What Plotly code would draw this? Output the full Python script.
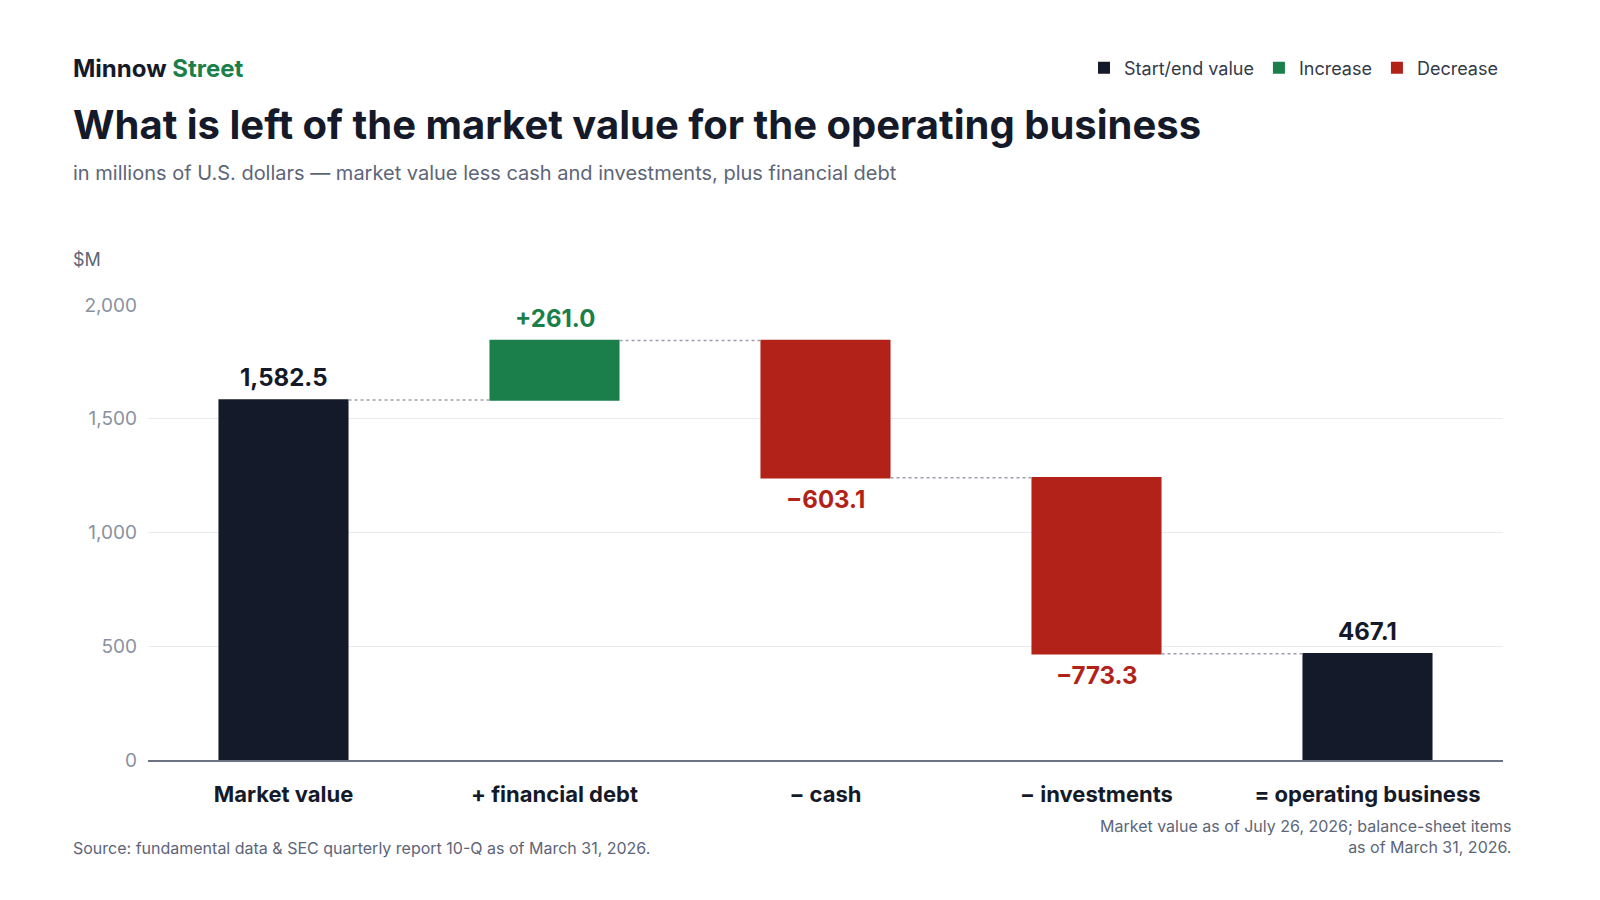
import plotly.graph_objects as go

categories = ["Market value", "+ financial debt", "\u2212 cash", "\u2212 investments", "= operating business"]
values = [1582.5, 261.0, -603.1, -773.3, 467.1]
measures = ["absolute", "relative", "relative", "relative", "total"]
labels = ["1,582.5", "+261.0", "\u2212603.1", "\u2212773.3", "467.1"]

DARK = "#141a29"
GREEN = "#1a7f4b"
RED = "#b32218"

fig = go.Figure()
fig.add_trace(go.Waterfall(
    x=categories, y=values, measure=measures,
    increasing=dict(marker=dict(color=GREEN)),
    decreasing=dict(marker=dict(color=RED)),
    totals=dict(marker=dict(color=DARK)),
    connector=dict(line=dict(color="#9aa0ab", width=1.5, dash="dot")),
    width=0.48, showlegend=False, hoverinfo="skip",
))

# label positions from running totals
run = 0
for i, (c, v, m, lab) in enumerate(zip(categories, values, measures, labels)):
    if m == "absolute":
        run = v; ypos = v; shift = 22; col = DARK
    elif m == "total":
        ypos = run; shift = 22; col = DARK
    else:
        run = run + v
        if v > 0:
            ypos = run; shift = 22; col = GREEN
        else:
            ypos = run; shift = -22; col = RED
    fig.add_annotation(x=c, y=ypos, text="<b>%s</b>" % lab, showarrow=False,
                       yshift=shift, font=dict(size=24, color=col))

for name, col in [("Start/end value", DARK), ("Increase", GREEN), ("Decrease", RED)]:
    fig.add_trace(go.Scatter(x=[None], y=[None], name=name, mode="markers",
                             marker=dict(color=col, symbol="square", size=18)))

fig.update_layout(
    width=1600, height=900, plot_bgcolor="white", paper_bgcolor="white",
    font=dict(family="Inter", color=DARK),
    margin=dict(l=140, r=105, t=297, b=148),
    legend=dict(orientation="h", x=1.0, xanchor="right", y=1 - 60 / 900, yanchor="middle",
                yref="container", font=dict(size=18, color="#333a48"),
                traceorder="normal", itemsizing="constant"),
    xaxis=dict(showgrid=False, showline=True, linecolor="#6b7385", linewidth=1.5,
               tickfont=dict(size=22, color=DARK, family="Inter"), ticks="",
               ticklabelstandoff=14, fixedrange=True),
    yaxis=dict(range=[0, 2000], tickvals=[0, 500, 1000, 1500, 2000],
               ticktext=["0", "500", "1,000", "1,500", "2,000"],
               gridcolor="#e8eaee", zeroline=False,
               tickfont=dict(size=19, color="#8a91a0"), ticklabelstandoff=10),
)
fig.update_xaxes(tickprefix="<b>", ticksuffix="</b>")

ann = [
    dict(x=63, y=60, text="<b>Minnow <span style='color:%s'>Street</span></b>" % GREEN, size=24, color=DARK, xa="left"),
    dict(x=63, y=116, text="<b>What is left of the market value for the operating business</b>", size=40, color=DARK, xa="left"),
    dict(x=63, y=165, text="in millions of U.S. dollars \u2014 market value less cash and investments, plus financial debt", size=20, color="#5d6578", xa="left"),
    dict(x=63, y=252, text="$M", size=18, color="#5d6578", xa="left"),
    dict(x=63, y=840, text="Source: fundamental data &amp; SEC quarterly report 10-Q as of March 31, 2026.", size=16, color="#5d6578", xa="left"),
    dict(x=1505, y=828, text="Market value as of July 26, 2026; balance-sheet items<br>as of March 31, 2026.", size=16, color="#5d6578", xa="right"),
]
for a in ann:
    fig.add_annotation(x=(a["x"] - 140) / (1600 - 140 - 105),
                       y=(900 - 148 - a["y"]) / (900 - 297 - 148),
                       xref="paper", yref="paper",
                       text=a["text"], showarrow=False, xanchor=a["xa"], yanchor="middle",
                       align=a["xa"], font=dict(size=a["size"], color=a["color"]))

fig.write_html("out.html")
